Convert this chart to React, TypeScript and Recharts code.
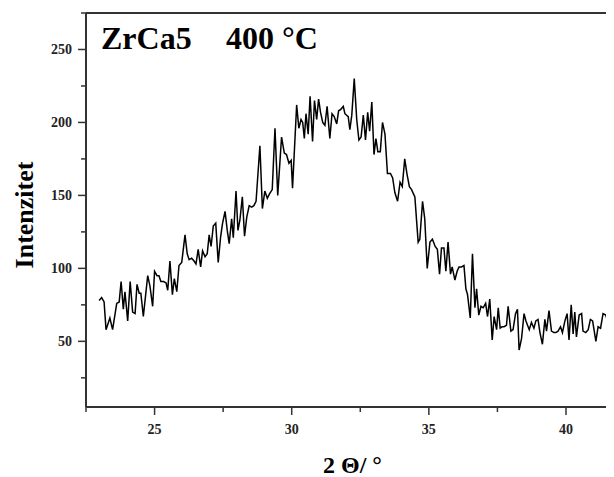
import { LineChart, Line, XAxis, YAxis, ReferenceLine } from 'recharts'

// 2θ positions (deg) of the trace vertices
const twoTheta = [
  22.98, 23.07, 23.16, 23.23, 23.37, 23.47, 23.62, 23.71, 23.78, 23.86,
  23.92, 24.02, 24.11, 24.2, 24.29, 24.36, 24.44, 24.5, 24.59, 24.75,
  24.83, 24.93, 25.0, 25.09, 25.16, 25.23, 25.33, 25.42, 25.48, 25.56,
  25.65, 25.72, 25.81, 25.89, 25.99, 26.11, 26.19, 26.26, 26.35, 26.44,
  26.51, 26.59, 26.68, 26.75, 26.84, 26.92, 26.99, 27.06, 27.14, 27.23,
  27.32, 27.41, 27.48, 27.57, 27.65, 27.72, 27.81, 27.87, 27.97, 28.04,
  28.11, 28.2, 28.28, 28.36, 28.45, 28.54, 28.62, 28.7, 28.84, 28.93,
  29.02, 29.11, 29.19, 29.29, 29.39, 29.49, 29.63, 29.73, 29.81, 29.9,
  29.98, 30.03, 30.18, 30.26, 30.34, 30.4, 30.46, 30.52, 30.6, 30.67,
  30.76, 30.83, 30.91, 30.98, 31.05, 31.13, 31.21, 31.29, 31.39, 31.47,
  31.55, 31.64, 31.71, 31.79, 31.88, 31.94, 32.06, 32.12, 32.19, 32.28,
  32.37, 32.45, 32.53, 32.61, 32.69, 32.77, 32.84, 32.92, 33.0, 33.07,
  33.14, 33.23, 33.31, 33.4, 33.49, 33.6, 33.68, 33.76, 33.86, 33.95,
  34.03, 34.12, 34.2, 34.29, 34.37, 34.49, 34.61, 34.67, 34.77, 34.85,
  34.94, 35.04, 35.13, 35.23, 35.31, 35.39, 35.46, 35.55, 35.62, 35.7,
  35.79, 35.85, 35.95, 36.03, 36.1, 36.19, 36.28, 36.35, 36.41, 36.51,
  36.59, 36.68, 36.74, 36.82, 36.9, 36.98, 37.07, 37.14, 37.22, 37.31,
  37.38, 37.47, 37.53, 37.6, 37.67, 37.74, 37.83, 37.89, 37.99, 38.07,
  38.16, 38.23, 38.29, 38.38, 38.47, 38.54, 38.66, 38.74, 38.83, 38.9,
  38.98, 39.05, 39.14, 39.23, 39.29, 39.38, 39.47, 39.56, 39.63, 39.71,
  39.8, 39.87, 39.96, 40.04, 40.11, 40.19, 40.26, 40.32, 40.38, 40.48,
  40.57, 40.62, 40.72, 40.81, 40.89, 40.97, 41.09, 41.17, 41.26, 41.35,
  41.45, 41.53, 41.62, 41.72,
]

const intensity = [
  78, 80, 77, 58, 66, 58, 76, 77, 91, 72,
  84, 64, 91, 70, 69, 89, 83, 83, 67, 95,
  88, 74, 98, 95, 95, 91, 91, 90, 85, 105,
  82, 93, 84, 102, 104, 123, 110, 106, 107, 105,
  103, 113, 101, 112, 108, 110, 123, 115, 129, 131,
  104, 122, 131, 139, 126, 117, 134, 121, 153, 126,
  133, 149, 122, 135, 143, 142, 143, 146, 184, 141,
  153, 148, 151, 154, 196, 150, 190, 179, 178, 172,
  174, 155, 212, 196, 202, 200, 189, 206, 192, 218,
  187, 215, 202, 216, 207, 200, 198, 211, 189, 206,
  204, 199, 208, 209, 211, 206, 204, 195, 205, 230,
  202, 188, 190, 205, 188, 207, 194, 214, 178, 189,
  180, 180, 200, 192, 165, 165, 162, 152, 146, 159,
  156, 175, 165, 156, 154, 149, 118, 120, 146, 134,
  100, 118, 120, 115, 113, 96, 114, 114, 98, 118,
  96, 101, 92, 98, 101, 101, 102, 86, 82, 66,
  110, 73, 86, 68, 74, 73, 76, 67, 79, 51,
  67, 58, 73, 59, 60, 60, 61, 74, 57, 58,
  69, 72, 44, 52, 69, 64, 58, 63, 59, 64,
  65, 56, 48, 65, 57, 71, 57, 56, 56, 57,
  60, 56, 64, 69, 51, 75, 55, 70, 53, 68,
  69, 57, 56, 58, 65, 64, 50, 60, 59, 69,
  68, 63, 60, 61,
]

const xTicks = [22.5, 25, 27.5, 30, 32.5, 35, 37.5, 40]
const yTicks = [25, 50, 75, 100, 125, 150, 175, 200, 225, 250, 275]

const data = twoTheta.map((t, i) => ({ t, v: intensity[i] }))

const FONT = '"Liberation Serif", "Times New Roman", serif'
const AXIS = '#333'

const XTick = (props: any) => {
  const { x, y, payload } = props
  const major = payload.value % 5 === 0
  return (
    <g>
      <line x1={x} x2={x} y1={y} y2={y + (major ? 8 : 5)} stroke={AXIS} strokeWidth={1.5} />
      {major && (
        <text x={x} y={y + 27} textAnchor="middle" fontFamily={FONT} fontWeight="bold" fontSize={14} fill="#222">
          {payload.value}
        </text>
      )}
    </g>
  )
}

const YTick = (props: any) => {
  const { x, y, payload } = props
  const major = payload.value % 50 === 0
  return (
    <g>
      <line x1={x} x2={x - (major ? 8 : 5)} y1={y} y2={y} stroke={AXIS} strokeWidth={1.5} />
      {major && (
        <text x={x - 14} y={y + 5} textAnchor="end" fontFamily={FONT} fontWeight="bold" fontSize={14} fill="#222">
          {payload.value}
        </text>
      )}
    </g>
  )
}

export default function App() {
  return (
    <LineChart width={606} height={469} data={data} margin={{ top: 5, right: 0, bottom: 30, left: 0 }}>
      <XAxis
        dataKey="t"
        type="number"
        domain={[22.5, 41.75]}
        allowDataOverflow
        ticks={xTicks}
        interval={0}
        tickSize={0}
        tickMargin={0}
        tick={XTick}
        height={40}
        axisLine={{ stroke: AXIS, strokeWidth: 2 }}
      />
      <YAxis
        type="number"
        domain={[5, 275]}
        allowDataOverflow
        ticks={yTicks}
        interval={0}
        tickSize={0}
        tickMargin={0}
        tick={YTick}
        width={78}
        axisLine={{ stroke: AXIS, strokeWidth: 2 }}
      />
      <ReferenceLine y={275} stroke={AXIS} strokeWidth={2} />
      <Line
        type="linear"
        dataKey="v"
        stroke="#000"
        strokeWidth={1.5}
        dot={false}
        isAnimationActive={false}
      />
      <text x={93} y={41} fontFamily={FONT} fontWeight="bold" fontSize={32} fill="#000">
        ZrCa5
      </text>
      <text x={218} y={41} fontFamily={FONT} fontWeight="bold" fontSize={32} fill="#000">
        400 °C
      </text>
      <text
        x={25}
        y={207}
        transform="rotate(-90 25 207)"
        textAnchor="middle"
        fontFamily={FONT}
        fontWeight="bold"
        fontSize={26}
        fill="#000"
      >
        Intenzitet
      </text>
      <text x={315} y={465} fontFamily={FONT} fontWeight="bold" fontSize={24} fill="#000">
        2 Θ/ °
      </text>
    </LineChart>
  )
}
